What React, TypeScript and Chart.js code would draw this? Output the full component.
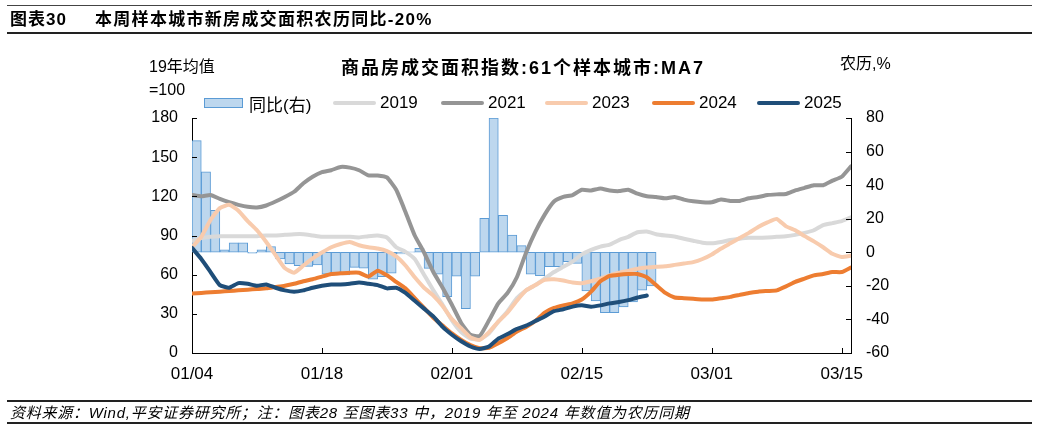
import React, { useEffect, useRef } from "react";
import { Chart, registerables } from "chart.js";

Chart.register(...registerables);

const FONT = "'Liberation Sans', 'Noto Sans CJK SC', sans-serif";

// 2025 calendar days (lunar-aligned comparison)
const dates = [
  "01/04", "01/05", "01/06", "01/07", "01/08", "01/09", "01/10", "01/11", "01/12", "01/13",
  "01/14", "01/15", "01/16", "01/17", "01/18", "01/19", "01/20", "01/21", "01/22", "01/23",
  "01/24", "01/25", "01/26", "01/27", "01/28", "01/29", "01/30", "01/31", "02/01", "02/02",
  "02/03", "02/04", "02/05", "02/06", "02/07", "02/08", "02/09", "02/10", "02/11", "02/12",
  "02/13", "02/14", "02/15", "02/16", "02/17", "02/18", "02/19", "02/20", "02/21", "02/22",
  "02/23", "02/24", "02/25", "02/26", "02/27", "02/28", "03/01", "03/02", "03/03", "03/04",
  "03/05", "03/06", "03/07", "03/08", "03/09", "03/10", "03/11", "03/12", "03/13", "03/14",
  "03/15", "03/16",
];

const tickDates = ["01/04", "01/18", "02/01", "02/15", "03/01", "03/15"];
const leftTicks = [0, 30, 60, 90, 120, 150, 180];
const rightTicks = [-60, -40, -20, 0, 20, 40, 60, 80];

// 同比(右), %
const yoy = [
  66.5, 48, 25, 1.4, 5.7, 5.7, -0.6, 1.4, 3.4, -4,
  -7, -8, -8.4, -7.6, -13, -13.5, -13.5, -9, -9.5, -16,
  -14.5, -12.5, -1, 0.3, 2.4, -9.6, -13, -26.4, -14.3, -33.6,
  -14.3, 20.2, 80, 22, 10.3, 4, -13, -14, -8.6, -8.6,
  -5.6, -6.6, -23, -29, -36, -36, -32.5, -29.5, -22.5, -20,
];

const y2019 = [
  86, 88, 89, 89.5, 89.5, 89.5, 89.5, 89.5, 90, 90,
  90.5, 91, 91, 90, 89, 89, 89, 89, 88.5, 89.5,
  90, 88.5, 81, 77.5, 72, 60, 48, 37, 25, 16,
  11, 10.5, 15, 24, 32, 42, 48, 52, 57, 62,
  66, 70, 75.5, 79, 81.5, 83, 86.5, 89, 92.5, 93,
  91, 90, 89.2, 87.5, 86, 84.5, 84, 85, 86.5, 87.5,
  88.2, 88.2, 88.5, 89, 89.5, 90.5, 92, 94, 98, 99.5,
  101, 104,
];

const y2021 = [
  121, 120, 121, 118, 115.5, 113.5, 112, 111.5, 113, 116,
  119.5, 123.5, 130, 135, 138.5, 140, 142.5, 142, 140, 136,
  136, 134.5, 125, 108, 90, 77, 62, 50, 37, 23,
  14, 13, 25, 38, 46, 58, 77, 93, 106, 116,
  119.5, 121, 125, 124.5, 126, 124.5, 124, 125, 122, 120,
  119.5, 118.5, 119.5, 117.5, 116.2, 115.5, 115.5, 117.5, 116.5, 116.5,
  118.5, 119.5, 121, 121.5, 121.8, 124.5, 126.5, 128.5, 128.5, 132,
  135, 143,
];

const y2023 = [
  81, 89, 102, 111, 113.5, 109, 101, 94, 85, 75,
  65, 61.5, 67, 72.5, 77, 81, 83.5, 85, 82.5, 81,
  80, 78, 74, 67, 58, 50, 44, 36, 26, 19,
  12, 10, 16, 24, 31, 40, 48, 52, 56, 56.5,
  55.5, 54, 53.5, 55, 57, 59.5, 61.5, 63, 64.5, 65.5,
  66, 66.5, 67.5, 68.5, 69.6, 72, 75.5, 80, 84, 88,
  92, 96.5, 100, 102.7, 97, 94, 89.5, 85.5, 81, 76,
  73.5, 74.5,
];

const y2024 = [
  45.5, 46, 46.5, 47, 47.5, 48, 48.5, 49, 49.5, 50.5,
  51.5, 53, 55, 56.5, 58.5, 60.5, 61, 61.5, 61.5, 58.5,
  63, 59.5, 54.5, 49.5, 42, 34.5, 27, 21, 15, 10,
  6, 3.6, 4, 7.5, 11.5, 16.5, 20, 24.5, 31, 34.5,
  36.5, 38, 41, 47, 55, 59, 60, 60.5, 60.5, 58,
  52, 46, 42.5, 42, 41.5, 41, 41, 42, 43, 44.5,
  46, 47, 47.5, 48, 51, 54.5, 57, 59.5, 60.5, 62,
  62, 65.5,
];

const y2025 = [
  80.5, 72, 62, 52, 50, 53.5, 53, 51.5, 52.5, 50,
  48, 47, 48, 50, 51.5, 52.5, 52.5, 53, 54, 53,
  52, 49.5, 50, 46, 40, 34, 28, 20, 14, 9,
  5, 3, 5, 11, 14.5, 18.5, 21, 24.5, 28, 32,
  33.5, 35.5, 36.5, 35.5, 36.5, 38, 39, 40.5, 42.5, 44,
];

const lineSeries = [
  { label: "2019", data: y2019, color: "#d9d9d9", order: 5 },
  { label: "2021", data: y2021, color: "#959595", order: 4 },
  { label: "2023", data: y2023, color: "#f8cbad", order: 3 },
  { label: "2024", data: y2024, color: "#ed7d31", order: 2 },
  { label: "2025", data: y2025, color: "#1f4e79", order: 1 },
];

const barLabel = "同比(右)";
const barFill = "#bdd7ee";
const barBorder = "#5b9bd5";

const inwardTicks = {
  id: "inwardTicks",
  afterDraw(chart: any) {
    const ctx = chart.ctx;
    const { left, right, bottom } = chart.chartArea;
    const L = 5;
    ctx.save();
    ctx.strokeStyle = "#000";
    ctx.lineWidth = 1;
    ctx.beginPath();
    const sy = chart.scales.y;
    sy.ticks.forEach((t: any) => {
      const p = Math.round(sy.getPixelForValue(t.value)) + 0.5;
      ctx.moveTo(left, p);
      ctx.lineTo(left + L, p);
    });
    const sy1 = chart.scales.y1;
    sy1.ticks.forEach((t: any) => {
      const p = Math.round(sy1.getPixelForValue(t.value)) + 0.5;
      ctx.moveTo(right, p);
      ctx.lineTo(right - L, p);
    });
    const sx = chart.scales.x;
    sx.ticks.forEach((t: any) => {
      const p = Math.round(sx.getPixelForValue(t.value)) + 0.5;
      ctx.moveTo(p, bottom);
      ctx.lineTo(p, bottom - L);
    });
    ctx.stroke();
    ctx.restore();
  },
};

export default function App() {
  const ref = useRef<HTMLCanvasElement>(null);

  useEffect(() => {
    const datasets: any[] = [
      {
        type: "bar",
        label: barLabel,
        data: yoy.map((v, i) => ({ x: i + 0.5, y: v })),
        backgroundColor: barFill,
        borderColor: barBorder,
        borderWidth: 1,
        borderSkipped: false,
        barPercentage: 1,
        categoryPercentage: 1,
        yAxisID: "y1",
        order: 10,
      },
      ...lineSeries.map((s) => ({
        type: "line",
        label: s.label,
        data: s.data.map((v, i) => ({ x: i, y: v })),
        borderColor: s.color,
        backgroundColor: s.color,
        borderWidth: 4,
        pointRadius: 0,
        tension: 0.15,
        borderCapStyle: "round",
        borderJoinStyle: "round",
        yAxisID: "y",
        order: s.order,
      })),
    ];

    const chart = new Chart(ref.current as HTMLCanvasElement, {
      type: "bar",
      data: { datasets },
      plugins: [inwardTicks],
      options: {
        animation: false,
        responsive: false,
        devicePixelRatio: 1,
        layout: { padding: { top: 118, left: 0, right: 0, bottom: 0 } },
        plugins: { legend: { display: false }, tooltip: { enabled: false }, title: { display: false } },
        scales: {
          x: {
            type: "linear",
            min: 0,
            max: dates.length - 1,
            offset: false,
            grid: { display: false, drawTicks: false },
            border: { display: true, color: "#000", width: 1 },
            afterBuildTicks: (scale: any) => {
              scale.ticks = tickDates.map((d) => ({ value: dates.indexOf(d) }));
            },
            afterFit: (scale: any) => {
              scale.height = 77;
            },
            ticks: {
              autoSkip: false,
              maxRotation: 0,
              padding: 11,
              color: "#000",
              font: { family: FONT, size: 17 },
              callback: (v: any) => dates[v as number] ?? "",
            },
          },
          y: {
            type: "linear",
            position: "left",
            min: 0,
            max: 180,
            grid: { display: false, drawTicks: false },
            border: { display: true, color: "#000", width: 1 },
            afterBuildTicks: (scale: any) => {
              scale.ticks = leftTicks.map((v) => ({ value: v }));
            },
            afterFit: (scale: any) => {
              scale.width = 192;
            },
            ticks: { padding: 14, color: "#000", font: { family: FONT, size: 16 } },
          },
          y1: {
            type: "linear",
            position: "right",
            min: -60,
            max: 80,
            grid: { display: false, drawTicks: false },
            border: { display: true, color: "#000", width: 1 },
            afterBuildTicks: (scale: any) => {
              scale.ticks = rightTicks.map((v) => ({ value: v }));
            },
            afterFit: (scale: any) => {
              scale.width = 188;
            },
            ticks: { padding: 15, color: "#000", font: { family: FONT, size: 16 } },
          },
        },
      } as any,
    });
    return () => chart.destroy();
  }, []);

  const legendLefts = [204, 333, 441, 545, 652, 757];

  const rule = (top: number, h: number, color: string) => (
    <div style={{ position: "absolute", left: 7, right: 7, top, height: h, background: color }} />
  );

  return (
    <div
      style={{
        position: "absolute",
        left: 0,
        top: 0,
        width: 1039,
        height: 430,
        background: "#fff",
        fontFamily: FONT,
        color: "#000",
        overflow: "hidden",
      }}
    >
      <canvas ref={ref} width={1039} height={430} style={{ position: "absolute", left: 0, top: 0 }} />
      {rule(5, 1, "#444")}
      {rule(32, 2, "#222")}
      {rule(400, 2, "#222")}
      {rule(422, 2, "#222")}
      <div
        style={{
          position: "absolute",
          left: 10,
          top: 10,
          fontSize: 17,
          lineHeight: "20px",
          fontWeight: "bold",
          letterSpacing: 1,
          whiteSpace: "nowrap",
        }}
      >
        图表30
      </div>
      <div
        style={{
          position: "absolute",
          left: 95,
          top: 10,
          fontSize: 17,
          lineHeight: "20px",
          fontWeight: "bold",
          letterSpacing: 1.3,
          whiteSpace: "nowrap",
        }}
      >
        本周样本城市新房成交面积农历同比-20%
      </div>
      <div
        style={{
          position: "absolute",
          left: 523,
          top: 57,
          transform: "translateX(-50%)",
          fontSize: 18,
          lineHeight: "22px",
          fontWeight: "bold",
          letterSpacing: 2,
          whiteSpace: "nowrap",
        }}
      >
        商品房成交面积指数:61个样本城市:MA7
      </div>
      <div style={{ position: "absolute", left: 149, top: 56, fontSize: 16, lineHeight: "22px", whiteSpace: "nowrap" }}>
        19年均值
      </div>
      <div style={{ position: "absolute", left: 149, top: 79, fontSize: 16, lineHeight: "22px", whiteSpace: "nowrap" }}>
        =100
      </div>
      <div style={{ position: "absolute", left: 840, top: 53, fontSize: 16, lineHeight: "22px", whiteSpace: "nowrap" }}>
        农历,%
      </div>
      {/* legend */}
      <div
        style={{
          position: "absolute",
          left: legendLefts[0],
          top: 92,
          height: 22,
          display: "flex",
          alignItems: "center",
          fontSize: 17,
          whiteSpace: "nowrap",
        }}
      >
        <span
          style={{
            display: "inline-block",
            width: 37,
            height: 8,
            background: barFill,
            border: `1px solid ${barBorder}`,
            marginRight: 6,
          }}
        />
        <span>{barLabel}</span>
      </div>
      {lineSeries.map((s, k) => (
        <div
          key={s.label}
          style={{
            position: "absolute",
            left: legendLefts[k + 1],
            top: 92,
            height: 22,
            display: "flex",
            alignItems: "center",
            fontSize: 17,
            whiteSpace: "nowrap",
          }}
        >
          <span
            style={{
              display: "inline-block",
              width: 43,
              height: 4,
              borderRadius: 2,
              background: s.color,
              marginRight: 4,
            }}
          />
          <span>{s.label}</span>
        </div>
      ))}
      <div
        style={{
          position: "absolute",
          left: 10,
          top: 403,
          fontSize: 15,
          lineHeight: "19px",
          fontStyle: "italic",
          letterSpacing: 0.75,
          whiteSpace: "nowrap",
        }}
      >
        资料来源：Wind,平安证券研究所；注：图表28 至图表33 中，2019 年至 2024 年数值为农历同期
      </div>
    </div>
  );
}
